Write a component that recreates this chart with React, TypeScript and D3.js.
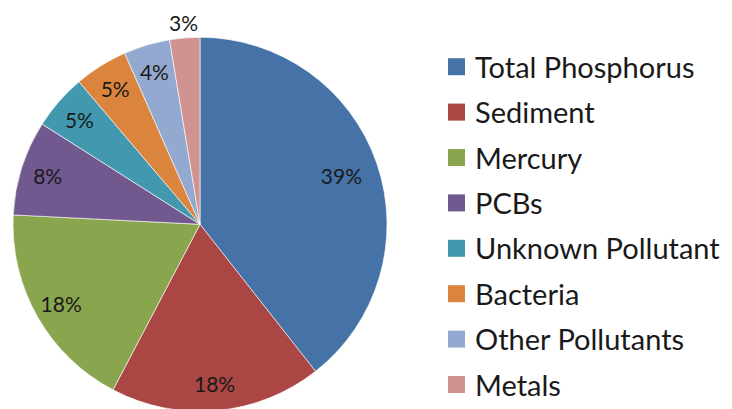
import React from "react";
import * as d3 from "d3";

const categories = [
  "Total Phosphorus",
  "Sediment",
  "Mercury",
  "PCBs",
  "Unknown Pollutant",
  "Bacteria",
  "Other Pollutants",
  "Metals",
];
const values = [39.4, 18.3, 18.1, 8.2, 4.8, 4.6, 4.0, 2.6];
const colors = [
  "#4572A7",
  "#AA4643",
  "#89A54E",
  "#71588F",
  "#4198AF",
  "#DB843D",
  "#93A9CF",
  "#D19392",
];

const W = 732;
const H = 409;
const FONT = "Lato, 'Open Sans', sans-serif";

export default function App() {
  const cx = 200;
  const cy = 224.3;
  const r = 187;
  const data = categories.map((c, i) => ({ name: c, value: values[i], color: colors[i] }));
  const total = d3.sum(values);
  const pie = d3.pie<any>().value((d) => d.value).sort(null);
  const arcs = pie(data);
  const arc = d3.arc<any>().innerRadius(0).outerRadius(r);
  const labelR = (a: any) => (a.data.value / total > 0.3 ? r * 0.8 : r * 0.855);
  const pct = (v: number) => Math.round((v / total) * 100 + 1e-9) + "%";

  const legendX = 448;
  const legendY0 = 66.7;
  const legendStep = 45.4;
  const sq = 17;

  return (
    <svg
      width={W}
      height={H}
      style={{ position: "absolute", left: 0, top: 0, background: "#fff" }}
    >
      <g transform={`translate(${cx},${cy})`}>
        {arcs.map((a, i) => (
          <path key={i} d={arc(a) as string} fill={a.data.color} stroke="#ffffff" strokeWidth={0.6} />
        ))}
        {arcs.map((a, i) => {
          const small = a.data.value / total < 0.03;
          const lr = small ? r * 1.085 : labelR(a);
          const [lx, ly] = d3.arc<any>().innerRadius(lr).outerRadius(lr).centroid(a);
          return (
            <text
              key={"l" + i}
              x={lx}
              y={ly}
              textAnchor="middle"
              dominantBaseline="central"
              fontFamily={FONT}
              fontSize={21}
              fill="#1a1a1a"
            >
              {pct(a.data.value)}
            </text>
          );
        })}
      </g>
      <g>
        {data.map((d, i) => {
          const y = legendY0 + i * legendStep;
          return (
            <g key={"lg" + i}>
              <rect x={legendX} y={y - sq / 2} width={sq} height={sq} fill={d.color} />
              <text
                x={legendX + 27}
                y={y - 0.5}
                dominantBaseline="central"
                fontFamily={FONT}
                fontSize={29}
                fill="#1a1a1a"
              >
                {d.name}
              </text>
            </g>
          );
        })}
      </g>
    </svg>
  );
}
